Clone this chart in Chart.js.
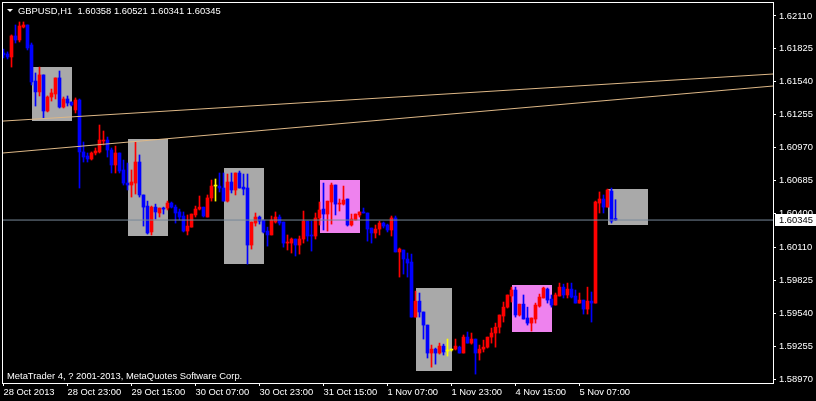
<!DOCTYPE html>
<html>
<head>
<meta charset="utf-8">
<script src="https://cdn.jsdelivr.net/npm/chart.js@4/dist/chart.umd.min.js"></script>
<style>
    html, body { margin: 0; padding: 0; background: #000; }
    #wrap { width: 816px; height: 401px; }
</style>
</head>
<body>
<div id="wrap"><canvas id="chart" width="816" height="401"></canvas></div>
<script>
var symbolTitle = 'GBPUSD,H1  1.60358 1.60521 1.60341 1.60345';
var copyrightText = 'MetaTrader 4, ? 2001-2013, MetaQuotes Software Corp.';

// hourly bars, oldest first
var opens = [
    1.61790, 1.61781, 1.61755, 1.61937, 1.61902, 1.62014, 1.62032, 1.61859, 1.61547, 1.61453,
    1.61600, 1.61288, 1.61409, 1.61435, 1.61574, 1.61322, 1.61392, 1.61366, 1.61297, 1.61383,
    1.60934, 1.60899, 1.60873, 1.60925, 1.60934, 1.61028, 1.61037, 1.60951, 1.60821, 1.60925,
    1.60778, 1.60665, 1.60648, 1.60665, 1.60847, 1.60562, 1.60466, 1.60242, 1.60457, 1.60406,
    1.60449, 1.60449, 1.60492, 1.60457, 1.60415, 1.60380, 1.60250, 1.60284, 1.60389, 1.60440,
    1.60457, 1.60371, 1.60536, 1.60639, 1.60639, 1.60622, 1.60509, 1.60674, 1.60605, 1.60752,
    1.60630, 1.60622, 1.60129, 1.60319, 1.60371, 1.60345, 1.60250, 1.60216, 1.60328, 1.60371,
    1.60328, 1.60146, 1.60146, 1.60181, 1.60129, 1.60181, 1.60336, 1.60216, 1.60207, 1.60363,
    1.60440, 1.60397, 1.60501, 1.60648, 1.60483, 1.60483, 1.60527, 1.60302, 1.60345, 1.60389,
    1.60415, 1.60406, 1.60276, 1.60233, 1.60267, 1.60319, 1.60302, 1.60259, 1.60363, 1.60069,
    1.60086, 1.60008, 1.59982, 1.59506, 1.59644, 1.59550, 1.59437, 1.59195, 1.59229, 1.59195,
    1.59255, 1.59212, 1.59221, 1.59229, 1.59246, 1.59195, 1.59333, 1.59281, 1.59316, 1.59195,
    1.59229, 1.59246, 1.59333, 1.59368, 1.59419, 1.59515, 1.59592, 1.59688, 1.59740, 1.59524,
    1.59618, 1.59498, 1.59454, 1.59489, 1.59601, 1.59671, 1.59748, 1.59662, 1.59610, 1.59688,
    1.59765, 1.59697, 1.59748, 1.59688, 1.59627, 1.59653, 1.59575, 1.59644, 1.59627, 1.60492,
    1.60527, 1.60457, 1.60596, 1.60358
];
var highs = [
    1.61824, 1.61799, 1.61946, 1.62032, 1.62058, 1.62058, 1.62032, 1.61876, 1.61617, 1.61668,
    1.61600, 1.61418, 1.61478, 1.61574, 1.61634, 1.61409, 1.61418, 1.61366, 1.61401, 1.61392,
    1.61020, 1.60925, 1.60934, 1.60968, 1.61167, 1.61115, 1.61063, 1.60968, 1.60985, 1.60925,
    1.60864, 1.60838, 1.60778, 1.61020, 1.60908, 1.60562, 1.60509, 1.60466, 1.60483, 1.60449,
    1.60457, 1.60509, 1.60501, 1.60475, 1.60440, 1.60415, 1.60389, 1.60397, 1.60466, 1.60553,
    1.60457, 1.60562, 1.60691, 1.60700, 1.60752, 1.60752, 1.60743, 1.60752, 1.60752, 1.60769,
    1.60743, 1.60743, 1.60328, 1.60406, 1.60380, 1.60345, 1.60284, 1.60380, 1.60415, 1.60389,
    1.60328, 1.60216, 1.60190, 1.60181, 1.60207, 1.60423, 1.60336, 1.60336, 1.60406, 1.60501,
    1.60665, 1.60509, 1.60665, 1.60648, 1.60527, 1.60639, 1.60527, 1.60397, 1.60397, 1.60415,
    1.60449, 1.60406, 1.60276, 1.60302, 1.60336, 1.60328, 1.60310, 1.60380, 1.60380, 1.60103,
    1.60086, 1.60060, 1.60051, 1.59731, 1.59714, 1.59550, 1.59437, 1.59264, 1.59238, 1.59281,
    1.59272, 1.59316, 1.59229, 1.59316, 1.59255, 1.59351, 1.59377, 1.59368, 1.59316, 1.59264,
    1.59307, 1.59333, 1.59411, 1.59454, 1.59524, 1.59636, 1.59697, 1.59765, 1.59765, 1.59618,
    1.59697, 1.59592, 1.59498, 1.59627, 1.59705, 1.59765, 1.59757, 1.59697, 1.59714, 1.59800,
    1.59791, 1.59800, 1.59800, 1.59740, 1.59714, 1.59653, 1.59765, 1.59723, 1.60509, 1.60588,
    1.60562, 1.60613, 1.60622, 1.60521
];
var lows = [
    1.61747, 1.61738, 1.61668, 1.61876, 1.61885, 1.62006, 1.61816, 1.61513, 1.61331, 1.61418,
    1.61228, 1.61280, 1.61374, 1.61392, 1.61314, 1.61314, 1.61331, 1.61331, 1.61271, 1.60622,
    1.60847, 1.60847, 1.60864, 1.60908, 1.60925, 1.60994, 1.60890, 1.60752, 1.60752, 1.60752,
    1.60648, 1.60605, 1.60544, 1.60570, 1.60544, 1.60293, 1.60224, 1.60216, 1.60354, 1.60371,
    1.60397, 1.60432, 1.60449, 1.60319, 1.60345, 1.60242, 1.60216, 1.60284, 1.60371, 1.60432,
    1.60371, 1.60371, 1.60509, 1.60509, 1.60588, 1.60509, 1.60501, 1.60579, 1.60562, 1.60622,
    1.60562, 1.59964, 1.60094, 1.60293, 1.60310, 1.60233, 1.60120, 1.60216, 1.60319, 1.60302,
    1.60111, 1.60086, 1.60060, 1.60034, 1.60051, 1.60146, 1.60163, 1.60077, 1.60181, 1.60302,
    1.60259, 1.60250, 1.60310, 1.60389, 1.60423, 1.60475, 1.60293, 1.60293, 1.60345, 1.60371,
    1.60406, 1.60163, 1.60146, 1.60190, 1.60216, 1.60276, 1.60242, 1.60207, 1.60069, 1.59852,
    1.59878, 1.59852, 1.59506, 1.59506, 1.59506, 1.59316, 1.59152, 1.59073, 1.59099, 1.59186,
    1.59178, 1.59169, 1.59212, 1.59221, 1.59195, 1.59195, 1.59281, 1.59272, 1.59013, 1.59134,
    1.59204, 1.59238, 1.59281, 1.59246, 1.59368, 1.59463, 1.59584, 1.59636, 1.59506, 1.59515,
    1.59489, 1.59437, 1.59385, 1.59454, 1.59592, 1.59671, 1.59627, 1.59592, 1.59610, 1.59688,
    1.59671, 1.59671, 1.59671, 1.59627, 1.59627, 1.59532, 1.59532, 1.59463, 1.59627, 1.60406,
    1.60406, 1.60457, 1.60319, 1.60341
];
var closes = [
    1.61773, 1.61755, 1.61937, 1.61902, 1.62023, 1.62032, 1.61833, 1.61539, 1.61453, 1.61600,
    1.61288, 1.61409, 1.61444, 1.61574, 1.61322, 1.61392, 1.61357, 1.61340, 1.61383, 1.60934,
    1.60890, 1.60873, 1.60925, 1.60942, 1.61037, 1.61037, 1.60951, 1.60821, 1.60925, 1.60769,
    1.60665, 1.60648, 1.60674, 1.60847, 1.60562, 1.60457, 1.60233, 1.60457, 1.60415, 1.60449,
    1.60440, 1.60492, 1.60457, 1.60406, 1.60371, 1.60250, 1.60293, 1.60397, 1.60440, 1.60457,
    1.60380, 1.60536, 1.60639, 1.60639, 1.60622, 1.60509, 1.60674, 1.60605, 1.60752, 1.60622,
    1.60613, 1.60129, 1.60328, 1.60371, 1.60336, 1.60242, 1.60216, 1.60345, 1.60371, 1.60319,
    1.60146, 1.60155, 1.60181, 1.60129, 1.60181, 1.60336, 1.60207, 1.60207, 1.60363, 1.60432,
    1.60397, 1.60509, 1.60648, 1.60483, 1.60492, 1.60518, 1.60302, 1.60354, 1.60397, 1.60415,
    1.60406, 1.60267, 1.60233, 1.60267, 1.60319, 1.60293, 1.60259, 1.60363, 1.60069, 1.60094,
    1.60008, 1.59973, 1.59506, 1.59644, 1.59550, 1.59437, 1.59195, 1.59229, 1.59195, 1.59255,
    1.59204, 1.59212, 1.59221, 1.59255, 1.59195, 1.59333, 1.59281, 1.59316, 1.59195, 1.59229,
    1.59246, 1.59333, 1.59368, 1.59419, 1.59524, 1.59592, 1.59697, 1.59740, 1.59524, 1.59618,
    1.59489, 1.59454, 1.59498, 1.59610, 1.59679, 1.59757, 1.59653, 1.59610, 1.59697, 1.59765,
    1.59697, 1.59748, 1.59679, 1.59627, 1.59653, 1.59575, 1.59644, 1.59627, 1.60501, 1.60527,
    1.60457, 1.60605, 1.60336, 1.60345
];

// time axis labels and the bars they sit on
var timeLabels = ['28 Oct 2013', '28 Oct 23:00', '29 Oct 15:00', '30 Oct 07:00', '30 Oct 23:00',
                  '31 Oct 15:00', '1 Nov 07:00', '1 Nov 23:00', '4 Nov 15:00', '5 Nov 07:00'];
var labelBars = [0, 16, 32, 48, 64, 80, 96, 112, 128, 144];

var priceTicks = [1.62110, 1.61825, 1.61540, 1.61255, 1.60970, 1.60685, 1.60400,
                  1.60110, 1.59825, 1.59540, 1.59255, 1.58970];
var priceMin = 1.58936, priceMax = 1.62222;
var barMin = -0.125, barMax = 192.375;

// session range boxes
var sessionFrom = [7, 31, 55, 79, 103, 127, 151];
var sessionTo = [17, 41, 65, 89, 112, 137, 161];
var sessionHigh = [1.61668, 1.61046, 1.60795, 1.60691, 1.59757, 1.59783, 1.60613];
var sessionLow = [1.61201, 1.60207, 1.59964, 1.60233, 1.59039, 1.59377, 1.60302];
var sessionMarked = [false, false, false, true, false, true, false];

// two trend lines, anchored at the chart edges
var trendBars = [-0.125, 192.375];
var trendUpper = [1.61201, 1.61608];
var trendLower = [1.60925, 1.61504];

var bidPrice = 1.60345;

var fontFamily = '"Liberation Sans", Arial, sans-serif';
var fontSize = 9.4;

function candleColor(i) {
    if(closes[i] > opens[i]) return '#ff0000';
    if(closes[i] < opens[i]) return '#0000ff';
    return '#ffff00';
}

var colors = opens.map(function(o, i) { return candleColor(i); });

function lineData(ys) {
    return trendBars.map(function(b, i) { return {x: b, y: ys[i]}; });
}

// no label overhang padding, the frame sits at fixed pixels
function fixBox(w, h) {
    return function(s) {
        if(w) s.width = w;
        if(h) s.height = h;
        s.paddingTop = 0;
        s.paddingBottom = 0;
        s.paddingLeft = 0;
        s.paddingRight = 0;
    };
}

var sessionBoxes = {
    id: 'sessionBoxes',
    beforeDatasetsDraw: function(chart) {
        var ctx = chart.ctx, xs = chart.scales.x, ys = chart.scales.y, a = chart.chartArea;
        ctx.save();
        ctx.beginPath();
        ctx.rect(a.left, a.top, a.right - a.left, a.bottom - a.top);
        ctx.clip();
        sessionFrom.forEach(function(from, i) {
            var x0 = Math.round(xs.getPixelForValue(from));
            var x1 = Math.round(xs.getPixelForValue(sessionTo[i]));
            var y0 = Math.round(ys.getPixelForValue(sessionHigh[i]));
            var y1 = Math.round(ys.getPixelForValue(sessionLow[i]));
            ctx.fillStyle = sessionMarked[i] ? '#ee82ee' : '#a9a9a9';
            ctx.fillRect(x0, y0, x1 - x0, y1 - y0);
        });
        ctx.restore();
    }
};

var terminalFrame = {
    id: 'terminalFrame',
    afterDraw: function(chart) {
        var ctx = chart.ctx, a = chart.chartArea, ys = chart.scales.y;
        ctx.save();
        ctx.strokeStyle = '#ffffff';
        ctx.lineWidth = 1;
        ctx.strokeRect(a.left - 0.5, a.top - 0.5, a.right - a.left + 1, a.bottom - a.top + 1);

        // title with the little dropdown arrow
        ctx.fillStyle = '#ffffff';
        ctx.beginPath();
        ctx.moveTo(7, 9);
        ctx.lineTo(13, 9);
        ctx.lineTo(10, 12);
        ctx.closePath();
        ctx.fill();
        ctx.font = fontSize + 'px ' + fontFamily;
        ctx.textBaseline = 'middle';
        ctx.textAlign = 'left';
        ctx.fillText(symbolTitle, 18, 11);
        ctx.fillText(copyrightText, 7, 376);

        // bid price label
        var by = Math.round(ys.getPixelForValue(bidPrice));
        ctx.fillRect(775, by - 6, 41, 12);
        ctx.fillStyle = '#000000';
        ctx.fillText(bidPrice.toFixed(5), 779, by);
        ctx.restore();
    }
};

new Chart(document.getElementById('chart'), {
    type: 'bar',
    data: {
        datasets: [
            {
                type: 'line',
                data: lineData([bidPrice, bidPrice]),
                borderColor: '#778899',
                borderWidth: 1,
                pointRadius: 0,
                order: 0
            },
            {
                type: 'line',
                data: lineData(trendUpper),
                borderColor: '#deb887',
                borderWidth: 1,
                pointRadius: 0,
                order: 1
            },
            {
                type: 'line',
                data: lineData(trendLower),
                borderColor: '#deb887',
                borderWidth: 1,
                pointRadius: 0,
                order: 1
            },
            {
                data: opens.map(function(o, i) { return {x: i, y: [o, closes[i]]}; }),
                backgroundColor: colors,
                barThickness: 3,
                minBarLength: 1,
                grouped: false,
                order: 2
            },
            {
                data: opens.map(function(o, i) { return {x: i, y: [lows[i], highs[i]]}; }),
                backgroundColor: colors,
                barThickness: 1,
                minBarLength: 1,
                grouped: false,
                order: 3
            }
        ]
    },
    options: {
        responsive: false,
        animation: false,
        layout: { padding: { left: 3, top: 3, right: 0, bottom: 0 } },
        plugins: {
            legend: { display: false },
            tooltip: { enabled: false }
        },
        scales: {
            x: {
                type: 'linear',
                position: 'bottom',
                min: barMin,
                max: barMax,
                offset: false,
                afterFit: fixBox(0, 18),
                afterBuildTicks: function(s) {
                    s.ticks = labelBars.map(function(v) { return {value: v}; });
                },
                ticks: {
                    color: '#ffffff',
                    font: { family: fontFamily, size: fontSize },
                    align: 'start',
                    padding: 1,
                    maxRotation: 0,
                    autoSkip: false,
                    callback: function(v) { return timeLabels[labelBars.indexOf(v)]; }
                },
                grid: { drawOnChartArea: false, tickLength: 3, color: '#ffffff', offset: false },
                border: { display: false }
            },
            y: {
                type: 'linear',
                position: 'right',
                min: priceMin,
                max: priceMax,
                afterFit: fixBox(43, 0),
                afterBuildTicks: function(s) {
                    s.ticks = priceTicks.map(function(v) { return {value: v}; });
                },
                ticks: {
                    color: '#ffffff',
                    font: { family: fontFamily, size: fontSize },
                    padding: 3,
                    callback: function(v) { return v.toFixed(5); }
                },
                grid: { drawOnChartArea: false, tickLength: 3, color: '#ffffff' },
                border: { display: false }
            }
        }
    },
    plugins: [sessionBoxes, terminalFrame]
});
</script>
</body>
</html>
